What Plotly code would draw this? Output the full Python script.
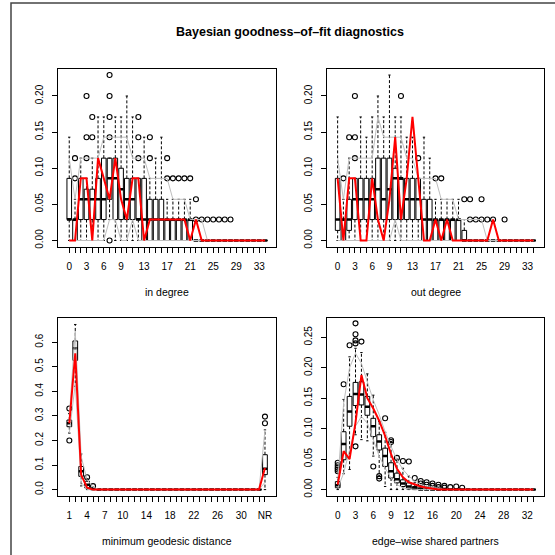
import plotly.graph_objects as go

# ---------------- data ----------------
deg_cats = [str(i) for i in range(35)]
deg_label_idx = [0, 3, 6, 9, 13, 17, 21, 25, 29, 33]
geo_cats = [str(i) for i in range(1, 34)] + ["NR"]
geo_label_idx = [0, 3, 6, 9, 13, 17, 21, 25, 29, 33]
esp_cats = [str(i) for i in range(34)]
esp_label_idx = [0, 3, 6, 9, 12, 16, 20, 24, 28, 32]

Z13 = [0] * 13
Z11 = [0] * 11

# in degree
in_q1 = [0.029, 0, 0.029, 0.029, 0.029, 0.029, 0.029, 0.057, 0.029, 0.029, 0.029, 0.029, 0.029, 0, 0, 0, 0, 0, 0, 0, 0, 0] + Z13
in_med = [0.029, 0.029, 0.057, 0.057, 0.057, 0.057, 0.057, 0.086, 0.086, 0.071, 0.057, 0.057, 0.029, 0.029, 0.029, 0.029, 0.029, 0.029, 0.029, 0.029, 0.029, 0.029] + Z13
in_q3 = [0.086, 0.029, 0.086, 0.071, 0.071, 0.086, 0.114, 0.114, 0.114, 0.1, 0.086, 0.086, 0.086, 0.086, 0.057, 0.057, 0.057, 0.029, 0.029, 0.029, 0.029, 0.029] + Z13
in_lo = [0, 0, 0, 0, 0, 0, 0, 0.029, 0, 0, 0, 0, 0, 0, 0, 0, 0, 0, 0, 0, 0, 0] + Z13
in_hi = [0.143, 0.057, 0.114, 0.086, 0.114, 0.171, 0.171, 0.114, 0.171, 0.171, 0.2, 0.171, 0.086, 0.143, 0.086, 0.114, 0.143, 0.057, 0.057, 0.057, 0.057, 0.057] + Z13
in_out = {1: [0.086, 0.114], 3: [0.114, 0.143, 0.2], 4: [0.143, 0.171],
          7: [0, 0.143, 0.171, 0.2, 0.229], 12: [0.114, 0.143, 0.171], 14: [0.114, 0.143],
          17: [0.086, 0.114], 18: [0.086], 19: [0.086], 20: [0.086], 21: [0.086],
          22: [0.029, 0.057], 23: [0.029], 24: [0.029], 25: [0.029], 26: [0.029], 27: [0.029], 28: [0.029]}
in_upper = [0.114, 0.057, 0.114, 0.114, 0.114, 0.114, 0.143, 0.143, 0.143, 0.143, 0.143, 0.114, 0.114, 0.114, 0.086, 0.086, 0.086, 0.086, 0.057, 0.057, 0.057, 0.029, 0.029, 0.029] + Z11
in_lower = [0, 0, 0, 0, 0, 0, 0, 0.029, 0.029, 0, 0, 0.029, 0, 0, 0, 0, 0, 0, 0, 0, 0, 0, 0, 0] + Z11
in_obs = [0, 0, 0.086, 0.086, 0, 0.114, 0.086, 0.057, 0.114, 0.057, 0.029, 0.086, 0.086, 0, 0.029, 0.029, 0.029, 0.029, 0.029, 0.029, 0.029, 0, 0.029, 0] + Z11

# out degree
out_q1 = [0.014, 0, 0.014, 0.029, 0.029, 0.029, 0.029, 0.029, 0.029, 0.029, 0.029, 0.029, 0.029, 0.029, 0.029, 0, 0, 0, 0, 0, 0, 0, 0] + [0] * 12
out_med = [0.029, 0.029, 0.029, 0.057, 0.057, 0.057, 0.057, 0.071, 0.057, 0.071, 0.086, 0.086, 0.057, 0.057, 0.057, 0.029, 0.029, 0.029, 0.029, 0.029, 0.029, 0.029, 0] + [0] * 12
out_q3 = [0.086, 0.029, 0.057, 0.086, 0.086, 0.086, 0.086, 0.114, 0.114, 0.114, 0.1, 0.086, 0.086, 0.086, 0.086, 0.057, 0.057, 0.029, 0.029, 0.029, 0.029, 0.029, 0.014] + [0] * 12
out_lo = [0] * 35
out_hi = [0.171, 0.057, 0.114, 0.086, 0.171, 0.143, 0.171, 0.2, 0.171, 0.229, 0.171, 0.171, 0.143, 0.143, 0.086, 0.143, 0.114, 0.057, 0.057, 0.057, 0.057, 0.057, 0.029] + [0] * 12
out_out = {1: [0.086], 2: [0.143], 3: [0.114, 0.143, 0.2], 11: [0.2], 14: [0.114],
           17: [0.086], 18: [0.086], 22: [0.057], 23: [0.029, 0.057], 24: [0.029],
           25: [0.029, 0.057], 26: [0.029], 27: [0.029], 29: [0.029]}
out_upper = [0.114, 0.057, 0.114, 0.114, 0.114, 0.114, 0.114, 0.171, 0.143, 0.143, 0.143, 0.143, 0.114, 0.114, 0.086, 0.086, 0.086, 0.086, 0.057, 0.057, 0.057, 0.029, 0.029, 0.029, 0.029, 0.029] + [0] * 9
out_lower = [0] * 10 + [0.029] + [0] * 24
out_obs = [0.086, 0, 0.086, 0.086, 0, 0, 0.086, 0.029, 0, 0.057, 0.143, 0.029, 0.086, 0.171, 0.086, 0, 0, 0.029, 0, 0.029, 0, 0, 0, 0, 0, 0, 0, 0.029, 0] + [0] * 6

# minimum geodesic distance
Z27 = [0] * 27
geo_q1 = [0.256, 0.526, 0.054, 0.007, 0, 0] + Z27 + [0.061]
geo_med = [0.27, 0.575, 0.075, 0.02, 0.002, 0] + Z27 + [0.085]
geo_q3 = [0.283, 0.605, 0.094, 0.034, 0.005, 0] + Z27 + [0.142]
geo_lo = [0.23, 0.42, 0.015, 0, 0, 0] + Z27 + [0]
geo_hi = [0.31, 0.672, 0.145, 0.045, 0.01, 0] + Z27 + [0.243]
geo_out = {0: [0.2, 0.33], 3: [0.05], 4: [0.014], 33: [0.27, 0.297]}
geo_upper = [0.30, 0.645, 0.135, 0.04, 0.01, 0] + Z27 + [0.243]
geo_lower = [0.23, 0.43, 0.03, 0, 0, 0] + Z27 + [0.03]
geo_obs = [0.27, 0.555, 0.06, 0.008, 0, 0] + Z27 + [0.088]

# edge-wise shared partners
esp_q1 = [0.003, 0.049, 0.104, 0.138, 0.139, 0.122, 0.087, 0.065, 0.038, 0.019, 0.011, 0.005, 0.001, 0, 0] + [0] * 19
esp_med = [0.007, 0.075, 0.128, 0.157, 0.156, 0.136, 0.104, 0.079, 0.055, 0.03, 0.017, 0.01, 0.005, 0.002, 0] + [0] * 19
esp_q3 = [0.013, 0.095, 0.153, 0.176, 0.177, 0.153, 0.117, 0.09, 0.068, 0.044, 0.027, 0.016, 0.011, 0.005, 0.003] + [0] * 19
esp_lo = [0, 0.026, 0.033, 0.09, 0.082, 0.08, 0.055, 0.022, 0.005, 0, 0, 0, 0, 0, 0] + [0] * 19
esp_hi = [0.02, 0.148, 0.218, 0.232, 0.225, 0.19, 0.155, 0.112, 0.094, 0.079, 0.05, 0.035, 0.022, 0.012, 0.007, 0.005, 0.003] + [0] * 17
esp_out = {0: [0.03, 0.033, 0.036, 0.04, 0.044], 1: [0.173], 2: [0.237],
           3: [0.273, 0.255, 0.245, 0.24, 0.071], 4: [0.243], 6: [0.038],
           7: [0.018, 0.022], 8: [0.117], 9: [0.078, 0.081], 10: [0.052], 11: [0.047],
           12: [0.046], 13: [0.019], 14: [0.014, 0.01], 15: [0.012, 0.008], 16: [0.01, 0.006],
           17: [0.008, 0.004], 18: [0.006, 0.003], 19: [0.004], 20: [0.005], 21: [0.003]}
esp_upper = [0.014, 0.142, 0.2, 0.224, 0.207, 0.177, 0.147, 0.123, 0.095, 0.071, 0.049, 0.033, 0.022, 0.014, 0.008, 0.005, 0.003, 0.001] + [0] * 16
esp_lower = [0.002, 0.027, 0.065, 0.104, 0.12, 0.109, 0.082, 0.055, 0.035, 0.019, 0.008, 0.003, 0.001] + [0] * 21
esp_obs = [0.008, 0.063, 0.05, 0.11, 0.188, 0.15, 0.133, 0.113, 0.088, 0.058, 0.034, 0.02, 0.012, 0.008, 0.005, 0.003, 0.001] + [0] * 17

MAIN_TITLE = "Bayesian goodness\u2013of\u2013fit diagnostics"

panels = [
    dict(cats=deg_cats, lab=deg_label_idx, q1=in_q1, med=in_med, q3=in_q3, lo=in_lo, hi=in_hi,
         out=in_out, upper=in_upper, lower=in_lower, obs=in_obs, title="in degree",
         yt=[0, 0.05, 0.1, 0.15, 0.2], ytt=["0.00", "0.05", "0.10", "0.15", "0.20"],
         yr=[-0.00914, 0.2377], px=(58.3, 276.0), py=(69.0, 248.0)),
    dict(cats=deg_cats, lab=deg_label_idx, q1=out_q1, med=out_med, q3=out_q3, lo=out_lo, hi=out_hi,
         out=out_out, upper=out_upper, lower=out_lower, obs=out_obs, title="out degree",
         yt=[0, 0.05, 0.1, 0.15, 0.2], ytt=["0.00", "0.05", "0.10", "0.15", "0.20"],
         yr=[-0.00914, 0.2377], px=(326.7, 544.3), py=(69.0, 248.0)),
    dict(cats=geo_cats, lab=geo_label_idx, q1=geo_q1, med=geo_med, q3=geo_q3, lo=geo_lo, hi=geo_hi,
         out=geo_out, upper=geo_upper, lower=geo_lower, obs=geo_obs, title="minimum geodesic distance",
         yt=[0, 0.1, 0.2, 0.3, 0.4, 0.5, 0.6], ytt=["0.0", "0.1", "0.2", "0.3", "0.4", "0.5", "0.6"],
         yr=[-0.0269, 0.699], px=(58.3, 276.0), py=(319.0, 498.0)),
    dict(cats=esp_cats, lab=esp_label_idx, q1=esp_q1, med=esp_med, q3=esp_q3, lo=esp_lo, hi=esp_hi,
         out=esp_out, upper=esp_upper, lower=esp_lower, obs=esp_obs, title="edge\u2013wise shared partners",
         yt=[0, 0.05, 0.1, 0.15, 0.2, 0.25], ytt=["0.00", "0.05", "0.10", "0.15", "0.20", "0.25"],
         yr=[-0.0109, 0.282], px=(326.7, 544.3), py=(319.0, 498.0)),
]

W = H = 555
FONT = "Liberation Sans, Arial, Helvetica, sans-serif"
BOXW = 0.8
CAPW = 0.4

fig = go.Figure()
annotations = []

for k, p in enumerate(panels):
    s = "" if k == 0 else str(k + 1)
    xa, ya = "x" + s, "y" + s
    n = len(p["cats"])
    xs = list(range(n))

    fig.add_trace(go.Box(x=xs, q1=p["q1"], median=p["med"], q3=p["q3"],
                         lowerfence=p["q1"], upperfence=p["q3"], width=BOXW, whiskerwidth=0,
                         fillcolor="white", line=dict(color="black", width=1),
                         boxpoints=False, xaxis=xa, yaxis=ya, showlegend=False, hoverinfo="skip"))
    wx, wy, cx, cy, mx, my = [], [], [], [], [], []
    for i in xs:
        if p["hi"][i] > p["q3"][i]:
            wx += [i, i, None]; wy += [p["q3"][i], p["hi"][i], None]
        if p["lo"][i] < p["q1"][i]:
            wx += [i, i, None]; wy += [p["q1"][i], p["lo"][i], None]
        for v in (p["hi"][i], p["lo"][i]):
            cx += [i - CAPW / 2, i + CAPW / 2, None]; cy += [v, v, None]
        mx += [i - BOXW / 2, i + BOXW / 2, None]; my += [p["med"][i], p["med"][i], None]
    fig.add_trace(go.Scatter(x=wx, y=wy, mode="lines", line=dict(color="black", width=1, dash="3px,2px"),
                             xaxis=xa, yaxis=ya, showlegend=False, hoverinfo="skip"))
    fig.add_trace(go.Scatter(x=cx, y=cy, mode="lines", line=dict(color="black", width=1),
                             xaxis=xa, yaxis=ya, showlegend=False, hoverinfo="skip"))
    fig.add_trace(go.Scatter(x=mx, y=my, mode="lines", line=dict(color="black", width=2.5),
                             xaxis=xa, yaxis=ya, showlegend=False, hoverinfo="skip"))
    ox, oy = [], []
    for i, vals in p["out"].items():
        for v in vals:
            ox.append(i); oy.append(v)
    fig.add_trace(go.Scatter(x=ox, y=oy, mode="markers",
                             marker=dict(symbol="circle-open", size=5, color="black", line=dict(width=1.1)),
                             xaxis=xa, yaxis=ya, showlegend=False, hoverinfo="skip"))
    for key in ("upper", "lower"):
        fig.add_trace(go.Scatter(x=xs, y=p[key], mode="lines", line=dict(color="#BEBEBE", width=1),
                                 xaxis=xa, yaxis=ya, showlegend=False, hoverinfo="skip"))
    fig.add_trace(go.Scatter(x=xs, y=p["obs"], mode="lines", line=dict(color="red", width=2),
                             xaxis=xa, yaxis=ya, showlegend=False, hoverinfo="skip"))

    ext = 0.04 * n
    x0, x1 = p["px"]
    y0, y1 = p["py"]
    ticktext = [p["cats"][i] if i in p["lab"] else "" for i in xs]
    fig.layout["xaxis" + s] = dict(domain=[x0 / W, x1 / W], range=[-0.5 - ext, n - 0.5 + ext],
                                   anchor=ya, tickvals=xs, ticktext=ticktext, ticks="outside", ticklen=5,
                                   tickwidth=1, tickcolor="black", showline=True, mirror=True,
                                   linecolor="black", linewidth=1, showgrid=False, zeroline=False,
                                   tickangle=0, ticklabelstandoff=5,
                                   tickfont=dict(family=FONT, size=10, color="black"))
    fig.layout["yaxis" + s] = dict(domain=[1 - y1 / H, 1 - y0 / H], range=p["yr"], anchor=xa,
                                   tickvals=p["yt"], ticktext=p["ytt"], ticks="outside", ticklen=5,
                                   tickwidth=1, tickcolor="black", showline=True, mirror=True,
                                   linecolor="black", linewidth=1, showgrid=False, zeroline=False,
                                   tickangle=-90, ticklabelstandoff=5,
                                   tickfont=dict(family=FONT, size=10, color="black"))
    annotations.append(dict(text=p["title"], x=(x0 + x1) / 2 / W, y=1 - (y1 + 45) / H,
                            xref="paper", yref="paper", xanchor="center", yanchor="middle",
                            showarrow=False, font=dict(family=FONT, size=10.5, color="black")))

annotations.append(dict(text="<b>" + MAIN_TITLE + "</b>", x=290 / W, y=1 - 32 / H, xref="paper", yref="paper",
                        xanchor="center", yanchor="middle", showarrow=False,
                        font=dict(family=FONT, size=12.5, color="black")))

fig.update_layout(
    width=W, height=H, margin=dict(l=0, r=0, t=0, b=0),
    paper_bgcolor="white", plot_bgcolor="white", showlegend=False,
    annotations=annotations,
    shapes=[dict(type="rect", xref="paper", yref="paper", x0=11 / W, x1=1.1, y0=-0.1, y1=1 - 3 / H,
                 line=dict(color="#444444", width=1.5), fillcolor="rgba(0,0,0,0)", layer="above")],
)

fig.write_html("out.html")
